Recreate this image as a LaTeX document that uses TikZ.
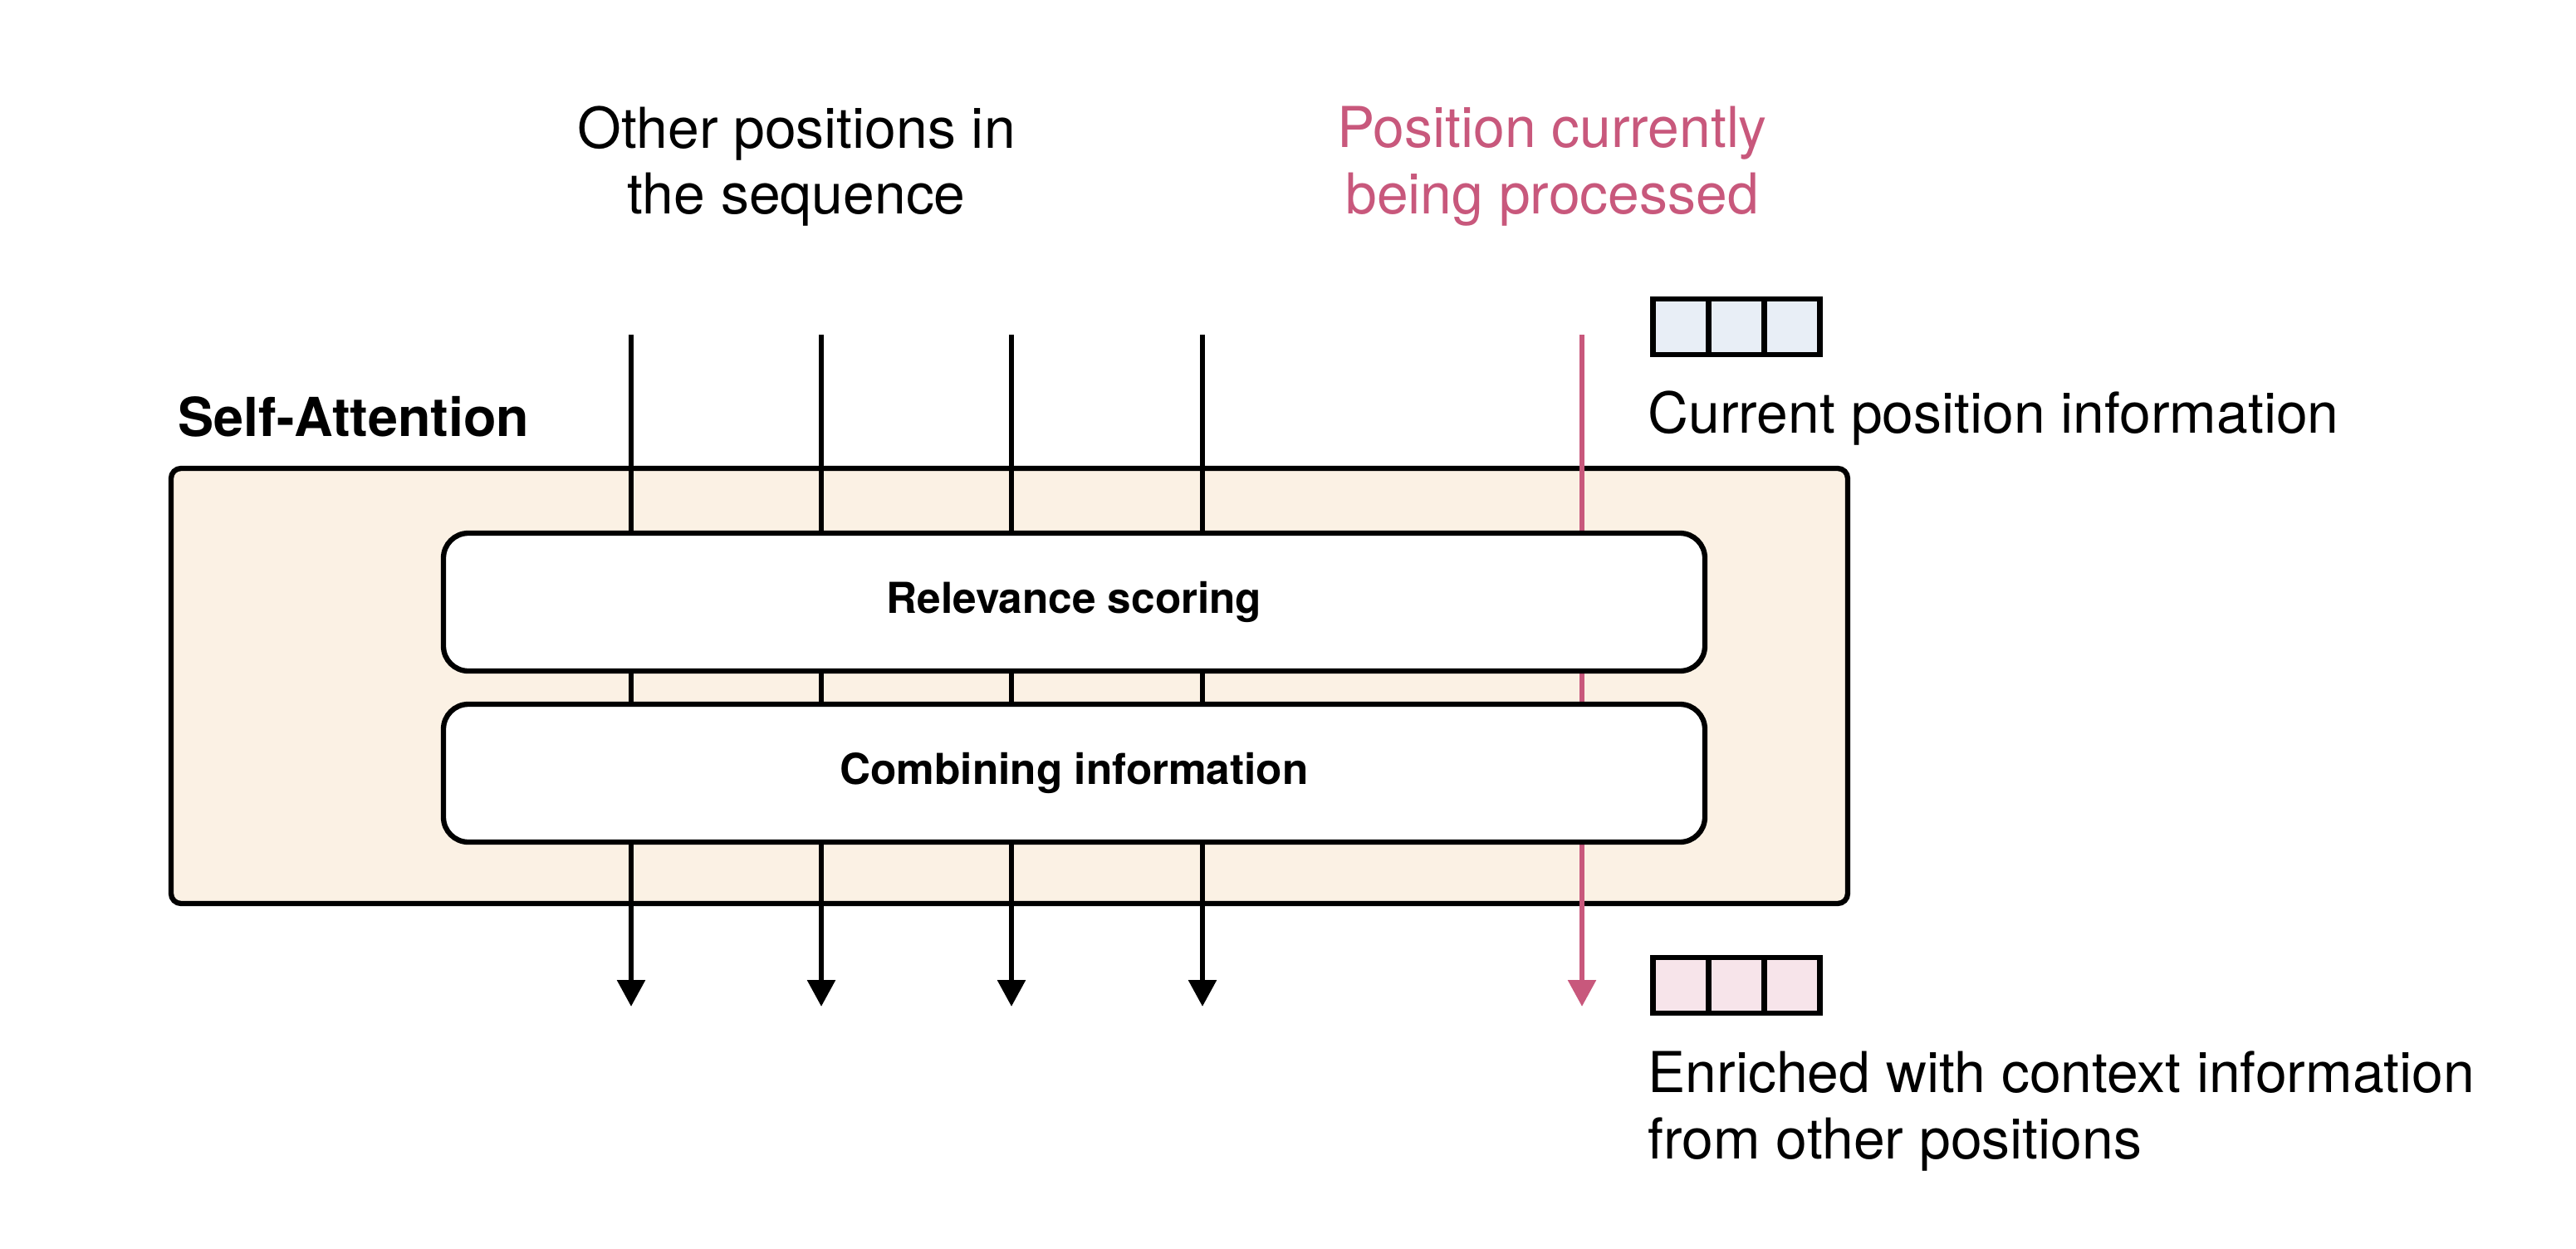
\documentclass[tikz,border=0pt]{standalone}
\usepackage{fontspec}
\setmainfont{TeX Gyre Heros}
\usetikzlibrary{arrows.meta, positioning}
\definecolor{attnpink}{RGB}{200, 88, 124}
\definecolor{attnbeige}{RGB}{251, 241, 228}
\definecolor{cellblue}{RGB}{232, 238, 246}
\definecolor{cellpink}{RGB}{247, 228, 234}

\begin{document}
\begin{tikzpicture}[
    lbl/.style={font=\fontsize{19.3}{22.6}\selectfont, inner sep=0pt},
    outerbox/.style={draw, line width=1.8pt, fill=attnbeige, rounded corners=0.12cm, minimum width=20.19cm, minimum height=5.24cm, inner sep=0pt},
    stage/.style={draw, line width=1.8pt, fill=white, rounded corners=0.3cm, minimum width=15.19cm, minimum height=1.66cm, inner sep=0pt, font=\fontsize{14.6}{17}\selectfont\bfseries},
    flow/.style={line width=1.7pt, -{Triangle[width=0.33cm, length=0.32cm]}},
    cell/.style={draw, line width=1.8pt, minimum width=0.67cm, minimum height=0.67cm, inner sep=0pt}
  ]
    \useasboundingbox (0,0) rectangle (31.02,-15.04);

    % Headings
    \node[lbl, align=center] (others) at (9.59,-2.00) {Other positions in\\the sequence};
    \node[lbl, align=center, attnpink] (current) at (18.69,-2.00) {Position currently\\being processed};

    % Self-Attention block
    \node[lbl, font=\fontsize{18.4}{22}\selectfont\bfseries, anchor=west] (satitle) at (2.14,-5.02) {Self-Attention};
    \node[outerbox] (selfatt) at (12.155,-8.26) {};

    % Positions flowing through
    \foreach \x [count=\i] in {7.60, 9.89, 12.18, 14.48} {
      \coordinate (in\i) at (\x,-4.03);
      \coordinate (out\i) at (\x,-12.12);
      \draw[flow] (in\i) -- (out\i);
    }
    \coordinate (inC) at (19.05,-4.03);
    \coordinate (outC) at (19.05,-12.12);
    \draw[flow, attnpink] (inC) -- (outC);

    \node[stage] (score) at (12.935,-7.25) {Relevance scoring};
    \node[stage] (combine) at (12.935,-9.31) {Combining information};

    % Vectors
    \foreach \x [count=\i] in {20.24, 20.91, 21.58} {
      \node[cell, fill=cellblue] (cb\i) at (\x,-3.935) {};
      \node[cell, fill=cellpink] (cp\i) at (\x,-11.865) {};
    }
    \node[lbl, anchor=west] (curinfo) at (19.84,-5.04) {Current position information};
    \node[lbl, anchor=west, align=left] (enriched) at (19.84,-13.38) {Enriched with context information\\from other positions};
  \end{tikzpicture}
\end{document}
